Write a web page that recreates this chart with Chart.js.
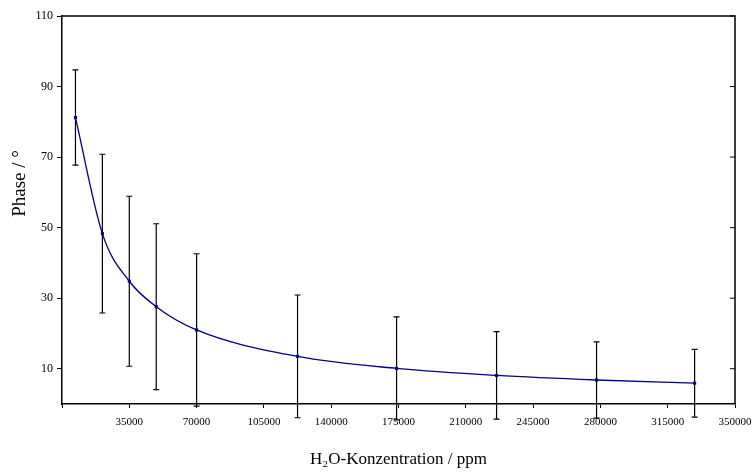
<!DOCTYPE html>
<html>
<head>
<meta charset="utf-8">
<script src="https://cdn.jsdelivr.net/npm/chart.js@4"></script>
<style>
    html, body { margin:0; padding:0; background:#fff; }
    #wrap { width:755px; height:473px; }
</style>
</head>
<body>
<div id="wrap"><canvas id="chartPhase" width="755" height="473"></canvas></div>
<script>
const concentration = [7000, 21000, 35000, 49000, 70000, 122500, 174000, 226000, 278000, 329000];
const phase = [81.2, 48.3, 34.8, 27.6, 21.0, 13.5, 10.1, 8.1, 6.8, 5.9];
const phaseErr = [13.5, 22.5, 24.1, 23.5, 21.6, 17.4, 14.6, 12.4, 10.8, 9.6];

const yTicks = [10, 30, 50, 70, 90, 110];

const yTitle = "Phase / °";
const xTitle = "H₂O-Konzentration / ppm";

const serif = "'Liberation Serif', 'Times New Roman', serif";

// error bars, frame (top / right) and the y title
const errorBars = {
    id: "errorBars",
    beforeDatasetsDraw(chart){
        const ctx = chart.ctx;
        const x = chart.scales.x;
        const y = chart.scales.y;
        ctx.save();
        ctx.strokeStyle = "#000";
        ctx.lineWidth = 1.2;
        concentration.forEach((c, i)=>{
            const px = x.getPixelForValue(c);
            const top = y.getPixelForValue(phase[i] + phaseErr[i]);
            const bot = y.getPixelForValue(phase[i] - phaseErr[i]);
            ctx.beginPath();
            ctx.moveTo(px, top); ctx.lineTo(px, bot);
            ctx.moveTo(px - 3, top); ctx.lineTo(px + 3, top);
            ctx.moveTo(px - 3, bot); ctx.lineTo(px + 3, bot);
            ctx.stroke();
        });
        ctx.restore();
    },
    afterDraw(chart){
        const ctx = chart.ctx;
        const a = chart.chartArea;
        const y = chart.scales.y;
        ctx.save();
        ctx.strokeStyle = "#000";
        ctx.lineWidth = 1.5;
        ctx.beginPath();
        ctx.moveTo(a.left, a.top); ctx.lineTo(a.right, a.top);
        ctx.lineTo(a.right, a.bottom);
        ctx.stroke();
        ctx.lineWidth = 1;
        yTicks.forEach(v=>{
            const py = y.getPixelForValue(v);
            ctx.beginPath();
            ctx.moveTo(a.right, py); ctx.lineTo(a.right - 5, py);
            ctx.stroke();
        });

        // y title sits a bit above the middle, like the original
        ctx.translate(20, 183.5);
        ctx.rotate(-Math.PI / 2);
        ctx.fillStyle = "#000";
        ctx.font = "19px " + serif;
        ctx.textAlign = "center";
        ctx.textBaseline = "middle";
        ctx.fillText(yTitle, 0, 0);
        ctx.restore();
    }
};

new Chart(document.getElementById("chartPhase"), {
    type: "line",
    data: {
        datasets: [{
            data: concentration.map((c, i)=>({x: c, y: phase[i]})),
            borderColor: "#00008b",
            backgroundColor: "#00008b",
            borderWidth: 1.3,
            cubicInterpolationMode: "monotone",
            pointRadius: 2.2,
            pointStyle: "rect",
            pointBorderWidth: 0
        }]
    },
    options: {
        responsive: false,
        animation: false,
        layout: { padding: { top: 16, right: 20, left: 0, bottom: 0 } },
        plugins: {
            legend: { display: false },
            tooltip: { enabled: false }
        },
        scales: {
            x: {
                type: "linear",
                min: 0,
                max: 350000,
                afterFit(s){
                    s.height = 69;
                    s.paddingRight = 0;
                    s.paddingLeft = 0;
                },
                ticks: {
                    stepSize: 35000,
                    autoSkip: false,
                    maxRotation: 0,
                    color: "#000",
                    padding: 8,
                    font: { family: serif, size: 11 },
                    callback: v => v === 0 ? "" : String(v)
                },
                grid: { display: true, drawOnChartArea: false, tickLength: 4, color: "#000" },
                border: { display: true, color: "#000", width: 1.5 },
                title: {
                    display: true,
                    text: xTitle,
                    color: "#000",
                    font: { family: serif, size: 17 },
                    padding: { top: 0, bottom: 3 }
                }
            },
            y: {
                min: 0,
                max: 110,
                afterFit(s){ s.width = 62; },
                afterBuildTicks(s){ s.ticks = yTicks.map(v=>({value: v})); },
                ticks: {
                    color: "#000",
                    padding: 4,
                    font: { family: serif, size: 12 }
                },
                grid: { display: true, drawOnChartArea: false, tickLength: 5, color: "#000" },
                border: { display: true, color: "#000", width: 1.5 }
            }
        }
    },
    plugins: [errorBars]
});
</script>
</body>
</html>
